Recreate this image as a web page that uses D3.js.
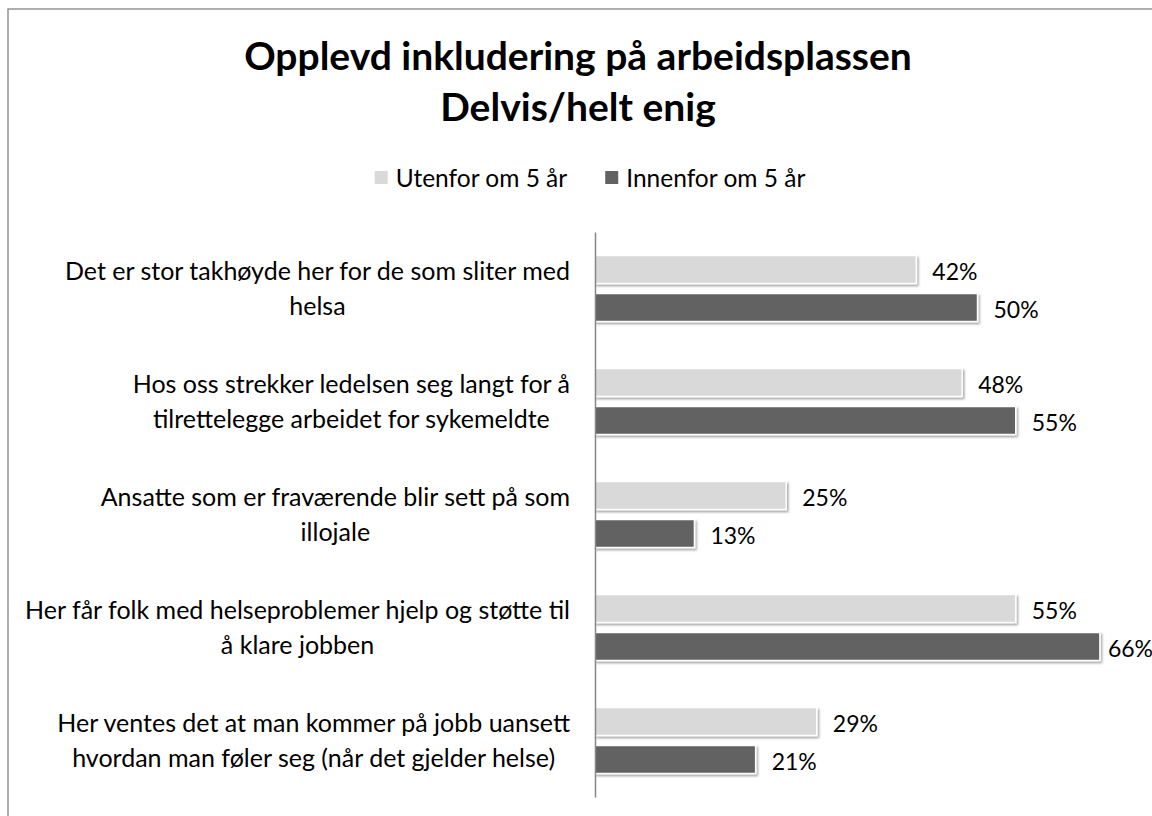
<!DOCTYPE html>
<html>
<head>
<meta charset="utf-8">
<script src="https://cdn.jsdelivr.net/npm/d3@7"></script>
<style>
  html, body { margin: 0; padding: 0; background: #ffffff; overflow: hidden; }
  svg { display: block; }
</style>
</head>
<body>
<svg id="chart" width="1152" height="816"></svg>
<script>
const titleLines = ["Opplevd inkludering på arbeidsplassen", "Delvis/helt enig"];
const categories = [
  ["Det er stor takhøyde her for de som sliter med", "helsa"],
  ["Hos oss strekker ledelsen seg langt for å", "tilrettelegge arbeidet for sykemeldte"],
  ["Ansatte som er fraværende blir sett på som", "illojale"],
  ["Her får folk med helseproblemer hjelp og støtte til", "å klare jobben"],
  ["Her ventes det at man kommer på jobb uansett", "hvordan man føler seg (når det gjelder helse)"]
];
const seriesNames = ["Utenfor om 5 år", "Innenfor om 5 år"];
const utenfor = [0.42, 0.48, 0.25, 0.55, 0.29];
const innenfor = [0.50, 0.55, 0.13, 0.66, 0.21];
const seriesColors = ["#d9d9d9", "#626262"];

const FONT = "Lato, 'Open Sans', sans-serif";
const svg = d3.select("#chart");
const W = 1152, H = 816;

// chart border
svg.append("rect")
  .attr("x", 8).attr("y", 9).attr("width", W + 10).attr("height", H + 10)
  .attr("fill", "#fff").attr("stroke", "#868686").attr("stroke-width", 1.3);

// drop shadow
const defs = svg.append("defs");
const f = defs.append("filter").attr("id", "shadow")
  .attr("x", "-5%").attr("y", "-20%").attr("width", "110%").attr("height", "160%");
f.append("feDropShadow").attr("dx", 1.5).attr("dy", 2).attr("stdDeviation", 1.2)
  .attr("flood-color", "#000").attr("flood-opacity", 0.35);

// title
const title = svg.append("text")
  .attr("text-anchor", "middle")
  .attr("font-family", FONT).attr("font-weight", "bold")
  .attr("font-size", 39).attr("fill", "#000");
titleLines.forEach((t, i) => {
  title.append("tspan").attr("x", 578).attr("y", 70 + i * 51).text(t);
});

// scales
const x = d3.scaleLinear().domain([0, 0.7]).range([595, 595 + 535.5]);
const y0 = d3.scaleBand().domain(d3.range(categories.length)).range([232, 797]).padding(0);
const y1 = d3.scaleBand().domain(seriesNames).range([0, y0.bandwidth()])
  .paddingInner(0.263).paddingOuter(0.618);

const rows = categories.map((c, i) => ({ i, values: [utenfor[i], innenfor[i]] }));

const groups = svg.append("g").selectAll("g")
  .data(rows).join("g")
  .attr("transform", d => `translate(0,${y0(d.i)})`);

groups.selectAll("rect")
  .data(d => d.values.map((v, k) => ({ v, k })))
  .join("rect")
  .attr("x", x(0))
  .attr("y", d => y1(seriesNames[d.k]))
  .attr("width", d => x(d.v) - x(0))
  .attr("height", y1.bandwidth())
  .attr("fill", d => seriesColors[d.k])
  .attr("stroke", "#ffffff")
  .attr("stroke-width", 1.5)
  .attr("filter", "url(#shadow)");

groups.selectAll("text.lbl")
  .data(d => d.values.map((v, k) => ({ v, k })))
  .join("text")
  .attr("class", "lbl")
  .attr("y", d => y1(seriesNames[d.k]) + y1.bandwidth() / 2 + 2)
  .attr("dy", "0.35em")
  .attr("font-family", FONT).attr("font-size", 23).attr("fill", "#000")
  .text(d => d3.format(".0%")(d.v))
  .attr("x", function(d) {
    const w = this.getComputedTextLength();
    return Math.min(x(d.v) + 16, W + 1 - w);
  });

// axis line (category axis)
const yAxis = d3.axisLeft(y0).tickSize(0).tickFormat("");
const ax = svg.append("g").attr("transform", `translate(${x(0)},0)`).call(yAxis);
ax.select(".domain").attr("stroke", "#868686").attr("stroke-width", 1.5);

// category labels: lines centered within a block right-aligned to the axis
const labelRight = 570;
categories.forEach((lines, i) => {
  const g = svg.append("g");
  const cy = y0(i) + y0.bandwidth() / 2;
  const t = g.append("text")
    .attr("text-anchor", "middle")
    .attr("font-family", FONT).attr("font-size", 25).attr("fill", "#000");
  const spans = lines.map((ln, j) => t.append("tspan")
    .attr("x", 0)
    .attr("y", cy + (j - (lines.length - 1) / 2) * 34.5)
    .attr("dy", "0.35em")
    .text(ln));
  const maxW = d3.max(spans, s => s.node().getComputedTextLength());
  g.attr("transform", `translate(${labelRight - maxW / 2},0)`);
});

// legend
const legend = svg.append("g");
let lx = 0;
seriesNames.forEach((name, k) => {
  const it = legend.append("g").attr("transform", `translate(${lx},0)`);
  it.append("rect").attr("x", 0).attr("y", 171).attr("width", 13).attr("height", 13)
    .attr("fill", seriesColors[k]);
  const tx = it.append("text").attr("x", 21).attr("y", 178).attr("dy", "0.35em")
    .attr("font-family", FONT).attr("font-size", 24.5).attr("fill", "#000").text(name);
  const w = tx.node().getComputedTextLength();
  lx += 21 + w + 38;
});
const totalW = lx - 38;
legend.attr("transform", `translate(${590 - totalW / 2},0)`);
</script>
</body>
</html>
